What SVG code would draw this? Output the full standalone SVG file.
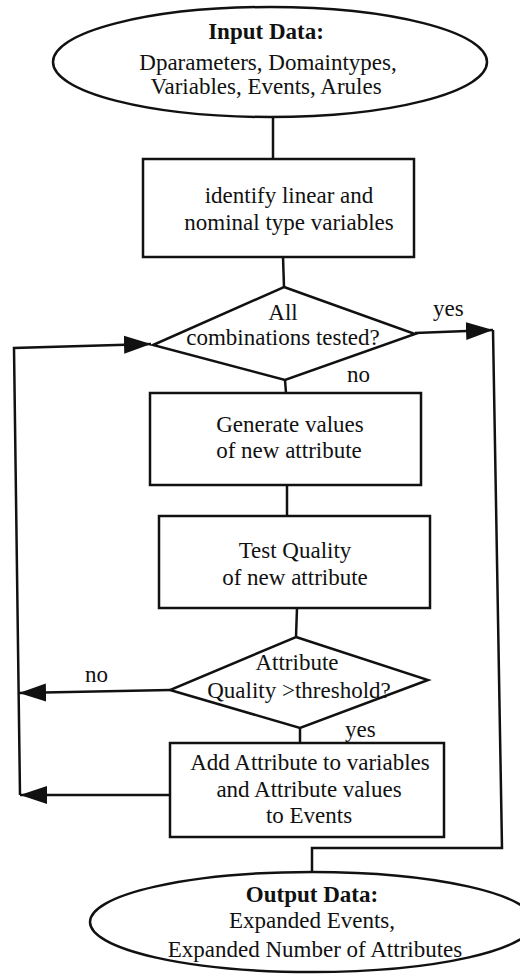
<svg xmlns="http://www.w3.org/2000/svg" width="520" height="976" viewBox="0 0 520 976">
  <style>
    .shape { fill: #fff; stroke: #111; stroke-width: 2.5; }
    .wire { fill: none; stroke: #111; stroke-width: 2.5; }
    text { font-family: "Liberation Serif", "Times New Roman", serif; font-size: 23px; fill: #111; text-anchor: middle; }
    .b { font-weight: bold; }
    .lbl { text-anchor: start; }
  </style>
  <defs>
    <marker id="arrow" markerUnits="userSpaceOnUse" markerWidth="28" markerHeight="20" refX="27" refY="10" orient="auto">
      <path d="M0,1 L27,10 L0,19 Z" fill="#111"/>
    </marker>
  </defs>
  <rect width="520" height="976" fill="#fff"/>

  <!-- connectors -->
  <g id="connectors">
    <path class="wire" d="M273,117 L273,159"/>
    <path class="wire" d="M283,257 L284,287"/>
    <path class="wire" d="M415,333 L493,330" marker-end="url(#arrow)"/>
    <path class="wire" d="M493,330 L502,848 L312,848 L312,872"/>
    <path class="wire" d="M285,380 L286,393"/>
    <path class="wire" d="M287,485 L287,516"/>
    <path class="wire" d="M297,608 L296,637"/>
    <path class="wire" d="M300,728 L300,743"/>
    <path class="wire" d="M20,795 L14,348 L151,344" marker-end="url(#arrow)"/>
    <path class="wire" d="M170,690 L19,693" marker-end="url(#arrow)"/>
    <path class="wire" d="M170,795 L20,795" marker-end="url(#arrow)"/>
    <text class="lbl" x="433" y="316">yes</text>
    <text class="lbl" x="347" y="382">no</text>
    <text class="lbl" x="85" y="682">no</text>
    <text class="lbl" x="345" y="737">yes</text>
  </g>

  <g id="input">
    <ellipse class="shape" cx="270" cy="62" rx="217" ry="55"/>
    <text class="b" x="266" y="39">Input Data:</text>
    <text x="268" y="70">Dparameters, Domaintypes,</text>
    <text x="266" y="94">Variables, Events, Arules</text>
  </g>

  <g id="identify">
    <rect class="shape" x="143" y="159" width="271" height="98"/>
    <text x="289" y="203">identify linear and</text>
    <text x="289" y="230">nominal type variables</text>
  </g>

  <g id="all-tested">
    <polygon class="shape" points="284,287 415,334 285,380 153,345"/>
    <text x="283" y="320">All</text>
    <text x="283" y="345">combinations tested?</text>
  </g>

  <g id="generate">
    <rect class="shape" x="150" y="393" width="271" height="92"/>
    <text x="290" y="432">Generate values</text>
    <text x="289" y="458">of new attribute</text>
  </g>

  <g id="test-quality">
    <rect class="shape" x="159" y="516" width="271" height="92"/>
    <text x="295" y="558">Test Quality</text>
    <text x="295" y="585">of new attribute</text>
  </g>

  <g id="threshold">
    <polygon class="shape" points="296,637 428,680 300,728 170,690"/>
    <text x="297" y="670">Attribute</text>
    <text x="299" y="698">Quality &gt;threshold?</text>
  </g>

  <g id="add-attribute">
    <rect class="shape" x="170" y="743" width="274" height="94"/>
    <text x="310" y="770">Add Attribute to variables</text>
    <text x="309" y="797">and Attribute values</text>
    <text x="309" y="823">to Events</text>
  </g>

  <g id="output">
    <ellipse class="shape" cx="312" cy="922" rx="222" ry="50"/>
    <text class="b" x="312" y="902">Output Data:</text>
    <text x="312" y="928">Expanded Events,</text>
    <text x="315" y="957">Expanded Number of Attributes</text>
  </g>
</svg>
